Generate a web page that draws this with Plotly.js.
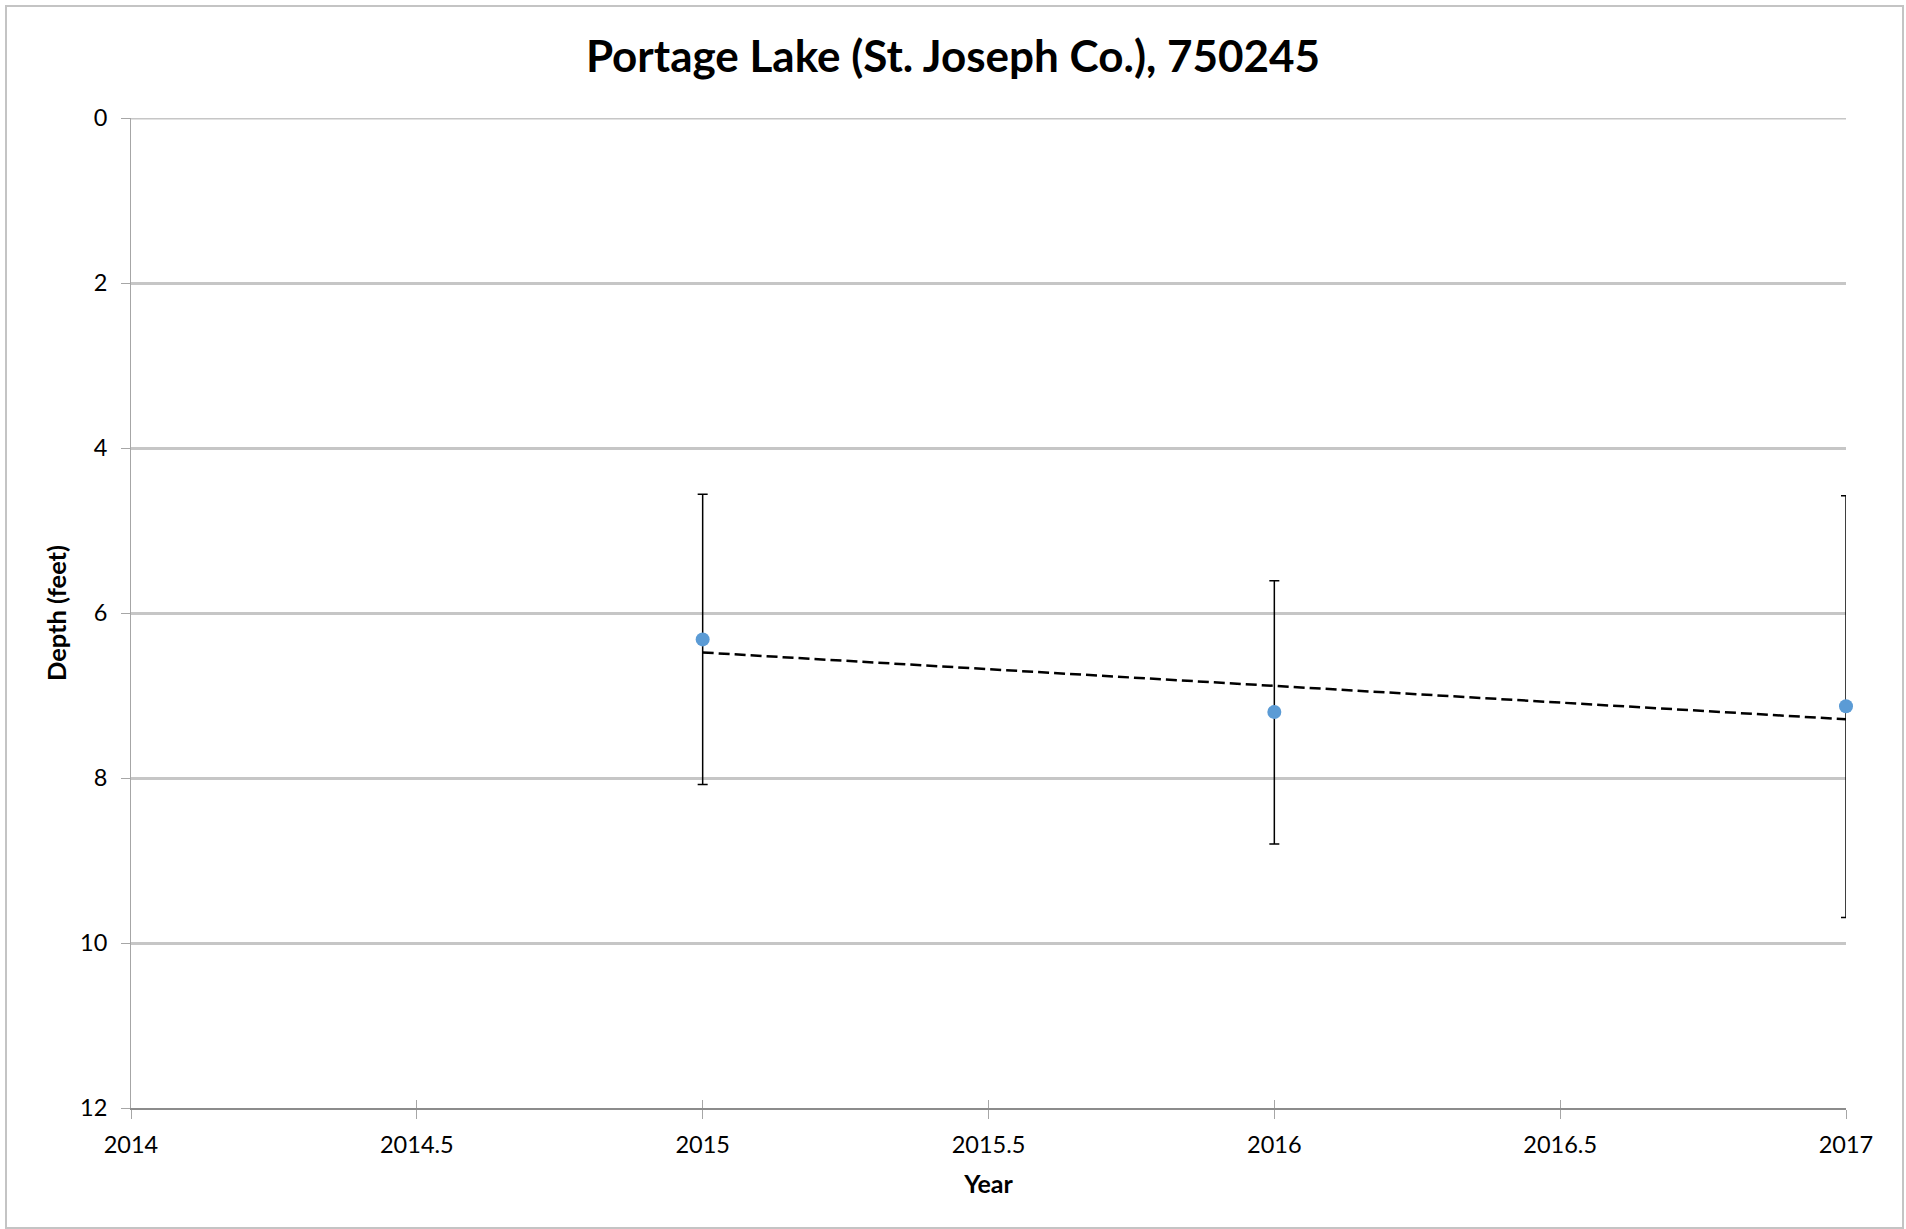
<!DOCTYPE html>
<html>
<head>
<meta charset="utf-8">
<script src="https://cdn.plot.ly/plotly-3.0.1.min.js"></script>
<style>
  html, body { margin: 0; padding: 0; background: #fff; }
  #chart { width: 1906px; height: 1229px; }
  #frame { position: absolute; left: 5px; top: 5px; width: 1895px; height: 1220px;
           border: 2px solid #c4c4c4; pointer-events: none; }
</style>
</head>
<body>
<div id="chart"></div>
<div id="frame"></div>
<script>
const chartTitle = "Portage Lake (St. Joseph Co.), 750245";
const xTitle = "Year";
const yTitle = "Depth (feet)";
const years = [2015, 2016, 2017];
const depth = [6.32, 7.20, 7.13];
const errPlus = [1.76, 1.60, 2.56];
const errMinus = [1.76, 1.59, 2.55];
const xTicks = [2014, 2014.5, 2015, 2015.5, 2016, 2016.5, 2017];
const yTicks = [0, 2, 4, 6, 8, 10, 12];

// linear (least squares) trendline through the data
const n = years.length;
const mx = years.reduce((a, b) => a + b, 0) / n;
const my = depth.reduce((a, b) => a + b, 0) / n;
let sxy = 0, sxx = 0;
for (let i = 0; i < n; i++) { sxy += (years[i] - mx) * (depth[i] - my); sxx += (years[i] - mx) ** 2; }
const slope = sxy / sxx;
const icpt = my - slope * mx;
const trendX = [Math.min(...years), Math.max(...years)];
const trendY = trendX.map(x => icpt + slope * x);

const font = "Lato, 'Open Sans', sans-serif";

const traces = [
  {
    x: trendX, y: trendY, type: "scatter", mode: "lines", cliponaxis: false,
    line: { color: "#000", width: 2.5, dash: "11px,5px" },
    hoverinfo: "skip", showlegend: false
  },
  {
    x: years, y: depth, type: "scatter", mode: "markers", cliponaxis: false,
    marker: { color: "#5b9bd5", size: 14 },
    error_y: { type: "data", symmetric: false, array: errPlus, arrayminus: errMinus,
               color: "#000", thickness: 1.5, width: 5 },
    showlegend: false
  },
  {
    x: [xTicks[0]], y: [yTicks[0]], xaxis: "x2", yaxis: "y",
    type: "scatter", mode: "markers", marker: { opacity: 0 },
    hoverinfo: "skip", showlegend: false
  }
];

const layout = {
  width: 1906, height: 1229,
  paper_bgcolor: "#fff", plot_bgcolor: "#fff",
  margin: { l: 131, r: 60, t: 118, b: 121 },
  showlegend: false,
  title: { text: chartTitle, font: { family: font, size: 44, color: "#000", weight: "bold" },
           x: 0.5, xanchor: "center", y: 1 - 57 / 1229, yanchor: "middle" },
  shapes: [
    { type: "line", xref: "paper", yref: "y", x0: 0, x1: 1, y0: yTicks[0], y1: yTicks[0],
      line: { color: "#c6c6c6", width: 3 }, layer: "below" }
  ],
  xaxis: {
    range: [2014, 2017], tickvals: xTicks, ticktext: xTicks.map(String),
    showgrid: false, zeroline: false,
    showline: true, linecolor: "#8c8c8c", linewidth: 2,
    ticks: "outside", ticklen: 9, tickcolor: "#a6a6a6", tickwidth: 1,
    ticklabelstandoff: 6,
    tickfont: { family: font, size: 23.5, color: "#000" },
    title: { text: xTitle, font: { family: font, size: 25, color: "#000", weight: "bold" }, standoff: 18 }
  },
  xaxis2: {
    overlaying: "x", anchor: "y", side: "bottom",
    range: [2014, 2017], tickvals: xTicks,
    showgrid: false, zeroline: false, showline: false, showticklabels: false,
    ticks: "inside", ticklen: 8, tickcolor: "#a6a6a6", tickwidth: 1
  },
  yaxis: {
    range: [12, 0], tickvals: yTicks, ticktext: yTicks.map(String),
    showgrid: true, gridcolor: "#c6c6c6", gridwidth: 3,
    zeroline: false, showline: true, linecolor: "#a6a6a6", linewidth: 1,
    ticks: "outside", ticklen: 9, tickcolor: "#a6a6a6", tickwidth: 1,
    ticklabelstandoff: 9,
    tickfont: { family: font, size: 23.5, color: "#000" },
    title: { text: yTitle, font: { family: font, size: 25.5, color: "#000", weight: "bold" }, standoff: 6 }
  }
};

Plotly.newPlot("chart", traces, layout, { staticPlot: true, displayModeBar: false });
</script>
</body>
</html>
